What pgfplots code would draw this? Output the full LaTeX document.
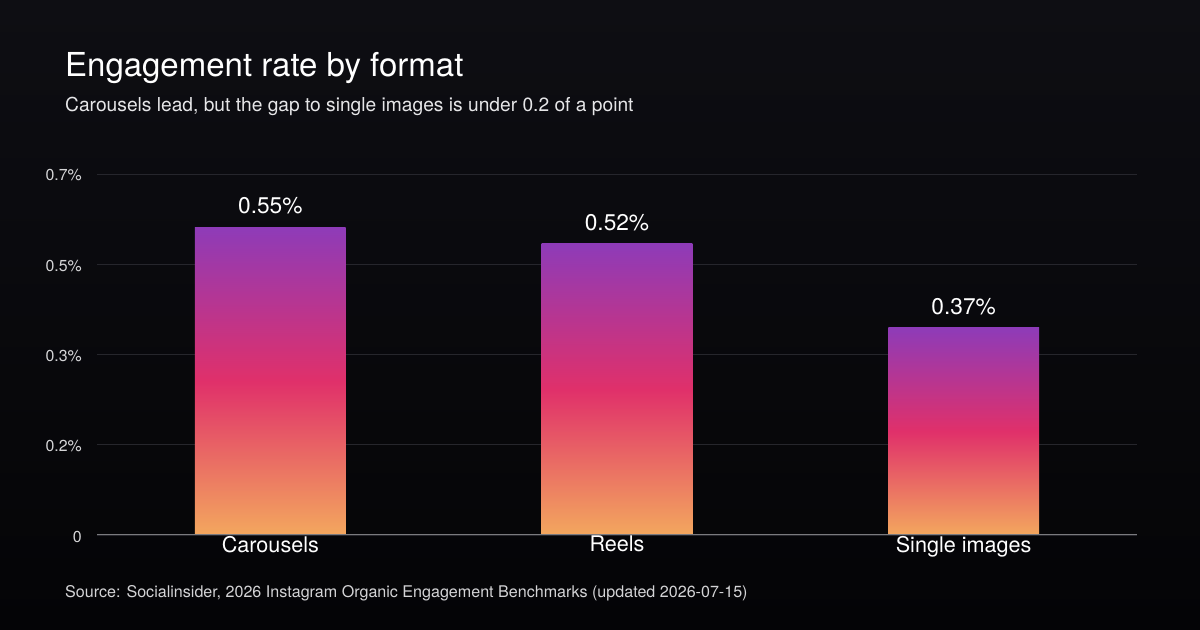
\documentclass[border=0pt]{standalone}
\usepackage{pgfplots}
\pgfplotsset{compat=1.18}
\usepackage{fontspec}
\setmainfont{TeX Gyre Heros}

\definecolor{bgtop}{HTML}{0E0E13}
\definecolor{bgbot}{HTML}{040406}
\definecolor{barpurple}{HTML}{8E3BB8}
\definecolor{barpink}{HTML}{E0306A}
\definecolor{barorange}{HTML}{F3A75E}
\definecolor{gridcol}{HTML}{26262C}
\definecolor{basecol}{HTML}{7A7A7E}
\definecolor{ticktext}{HTML}{D4D4D6}
\definecolor{subtext}{HTML}{E6E6E8}

\begin{document}
\begin{tikzpicture}
% background
\shade[top color=bgtop, bottom color=bgbot] (0,0) rectangle (1200bp,630bp);
\path[use as bounding box] (0,0) rectangle (1200bp,630bp);

\node[anchor=base west, inner sep=0pt, text=white, font=\fontsize{33bp}{39bp}\selectfont]
  at (65bp,553bp) {Engagement rate by format};
\node[anchor=base west, inner sep=0pt, text=subtext, font=\fontsize{19.2bp}{23bp}\selectfont]
  at (65bp,518bp) {Carousels lead, but the gap to single images is under 0.2 of a point};
\node[anchor=base west, inner sep=0pt, text=ticktext, font=\fontsize{16.1bp}{19bp}\selectfont]
  at (65bp,33bp) {Source: Socialinsider, 2026 Instagram Organic Engagement Benchmarks (updated 2026-07-15)};

\begin{axis}[
  at={(97bp,95bp)}, anchor=south west,
  scale only axis, width=1040bp, height=361bp,
  xmin=-0.5, xmax=2.5, ymin=0, ymax=0.645,
  axis line style={draw=none},
  major tick length=0pt,
  xtick={0,1,2},
  xticklabels={Carousels,Reels,Single images},
  ytick={0,0.16125,0.3225,0.48375,0.645},
  yticklabels={0,0.2\%,0.3\%,0.5\%,0.7\%},
  ymajorgrids,
  grid style={color=gridcol, line width=0.9bp},
  /pgf/number format/assume math mode=true,
  xticklabel style={text=white, font=\fontsize{21.6bp}{25bp}\selectfont, anchor=north, inner sep=0pt, yshift=-1bp},
  yticklabel style={text=ticktext, font=\fontsize{15.9bp}{19bp}\selectfont, anchor=east, inner sep=0pt, xshift=-15bp, yshift=-1.5bp},
  bar width=0.435,
  nodes near coords={\pgfmathprintnumber[fixed,precision=2,fixed zerofill]{\pgfplotspointmeta}\%},
  point meta=y,
  every node near coord/.append style={text=white, font=\fontsize{22.7bp}{27bp}\selectfont, anchor=south, inner sep=0pt, yshift=13bp},
  bars/.style={ybar, bar shift=0pt, draw=none, top color=barpurple, bottom color=barorange, middle color=barpink},
]
\addplot[bars] coordinates {(0,0.55)};
\addplot[bars] coordinates {(1,0.52)};
\addplot[bars] coordinates {(2,0.37)};
\draw[basecol, line width=1.8bp] (rel axis cs:0,0) -- (rel axis cs:1,0);
\end{axis}
\end{tikzpicture}
\end{document}
